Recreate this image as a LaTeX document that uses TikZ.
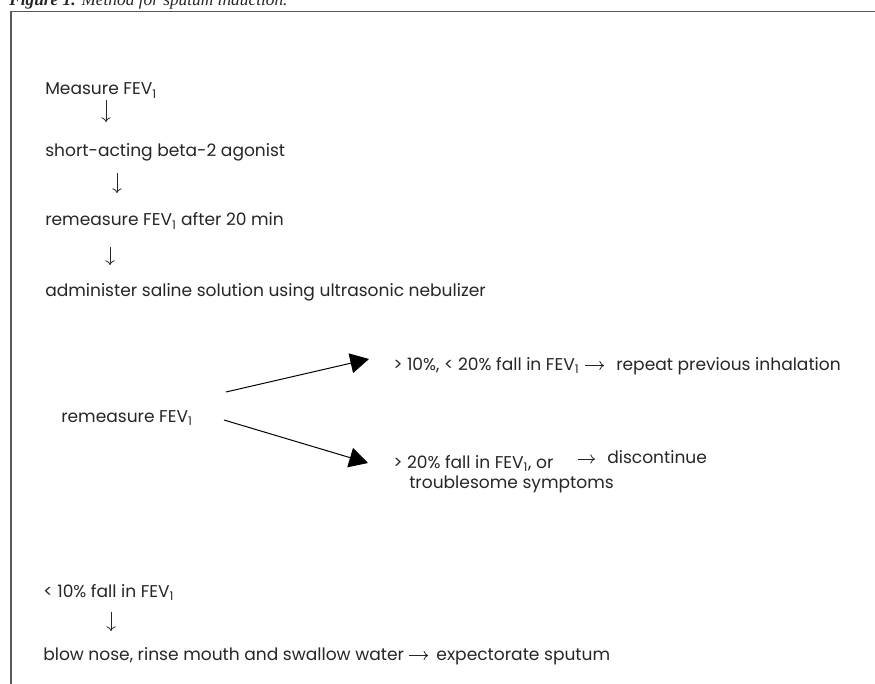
\documentclass[tikz,border=0pt]{standalone}
\usepackage{fontspec}
\setmainfont{Poppins}
\newfontfamily\captionfont{Liberation Serif}
\usetikzlibrary{arrows.meta,calc,positioning}

\newcommand{\fev}{FEV\textsubscript{1}}

\begin{document}
\begin{tikzpicture}[x=0.75pt,y=-0.75pt,
    every node/.style={inner sep=0pt,anchor=base west,text=black!85},
    txt/.style={font=\fontsize{12.8}{16}\selectfont},
    glyph/.style={draw=black!85,line width=0.6pt,-{To[length=3.5pt,width=7pt]}},
    branch/.style={draw=black,line width=0.75pt,-{Triangle[length=14pt,width=15pt]}},
    frame/.style={draw=black!65,line width=1.1pt}]
    \useasboundingbox (0,0) rectangle (875,684);
    \clip (0,0) rectangle (875,684);

    % caption, cut at the top
    \node[font=\captionfont\itshape\fontsize{13}{16}\selectfont] (caption) at (9,6) {\textbf{Figure 1.} Method for sputum induction.};
    \draw[frame] (11,700) -- (11,11.5) -- (880,11.5);

    \node[txt] (measure) at (45,95) {Measure \fev};
    \node[txt] (agonist) at (45,157) {short-acting beta-2 agonist};
    \node[txt] (remeasure) at (45,226) {remeasure \fev{} after 20 min};
    \node[txt] (saline) at (45,297) {administer saline solution using ultrasonic nebulizer};

    \node[txt] (recheck) at (61,422) {remeasure \fev};
    \node[txt] (mild) at (393,370) {> 10\%, < 20\% fall in \fev};
    \node[txt] (repeat) at (616,370) {repeat previous inhalation};
    \node[txt] (severe) at (393,468) {> 20\% fall in \fev, or};
    \node[txt] (symptoms) at (409,488) {troublesome symptoms};
    \node[txt] (stop) at (607,463) {discontinue};

    \node[txt] (slight) at (43,597) {< 10\% fall in \fev};
    \node[txt] (rinse) at (43,660) {blow nose, rinse mouth and swallow water};
    \node[txt,base right=24pt of rinse] (sputum) {expectorate sputum};

    % down arrows
    \draw[glyph] ($(measure.base west)+(61,5)$) -- ($(agonist.base west)+(61,-35)$);
    \draw[glyph] ($(agonist.base west)+(72,16)$) -- ($(remeasure.base west)+(72,-33)$);
    \draw[glyph] ($(remeasure.base west)+(65,21)$) -- ($(saline.base west)+(65,-32)$);
    \draw[glyph] ($(slight.base west)+(68,15)$) -- ($(rinse.base west)+(68,-29)$);

    % arrows in the lines
    \draw[glyph] ($(mild.base east)+(5,-4.5)$) -- ($(repeat.base west)+(-12,-4.5)$);
    \draw[glyph] ($(severe.base west)+(185,-9)$) -- ($(stop.base west)+(-12,-4)$);
    \draw[glyph] ($(rinse.base east)+(5,-4.5)$) -- ($(sputum.base west)+(-8,-4.5)$);

    % fork
    \draw[branch] ($(recheck.base west)+(165,-30)$) -- ($(mild.base west)+(-24,-11)$);
    \draw[branch] ($(recheck.base west)+(163,-2)$) -- ($(severe.base west)+(-25,-5)$);
\end{tikzpicture}
\end{document}
